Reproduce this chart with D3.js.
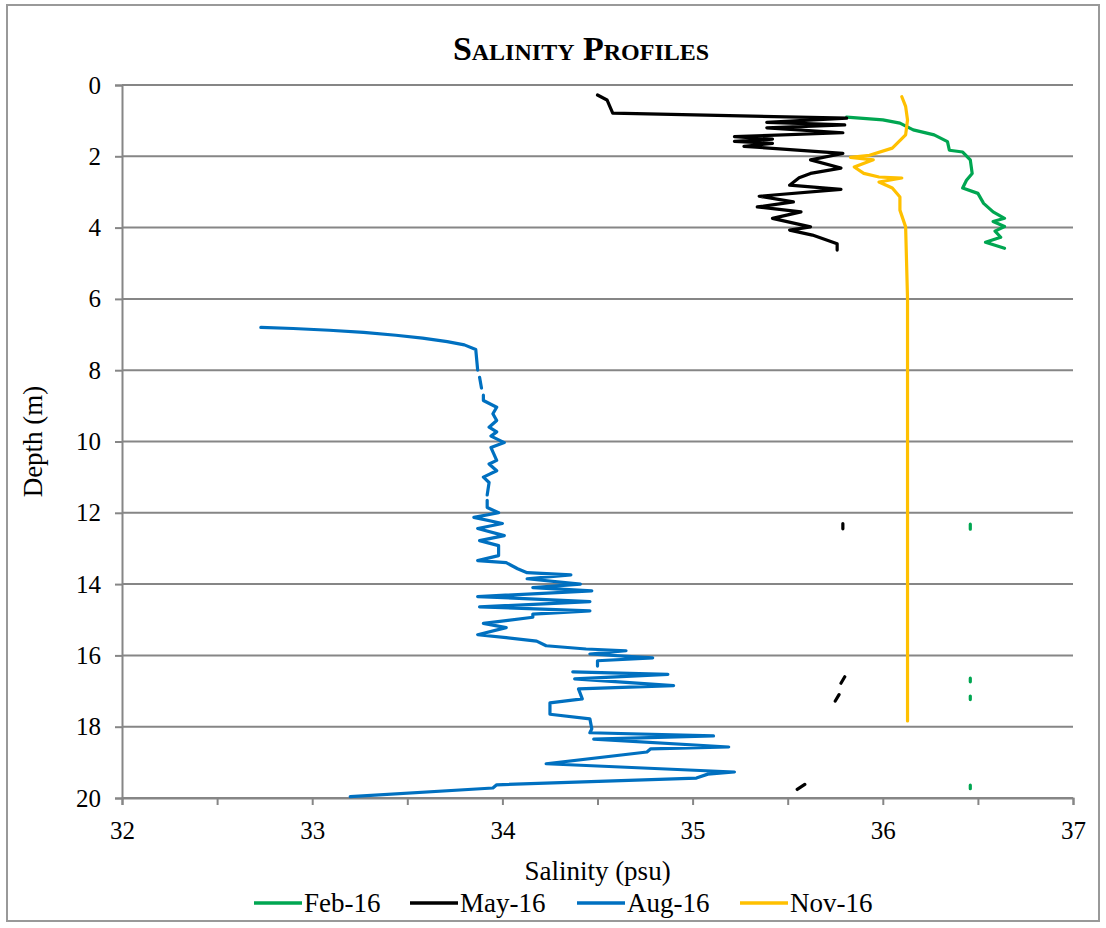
<!DOCTYPE html>
<html><head><meta charset="utf-8">
<script src="https://cdn.jsdelivr.net/npm/d3@7"></script>
<style>
html,body{margin:0;padding:0;background:#fff;}
</style></head>
<body><svg id="chart" width="1106" height="928"></svg>
<script>
// ---- data: [salinity (psu), depth (m)], null = gap ----
const seriesNames = ["Feb-16","May-16","Aug-16","Nov-16"];
const seriesColors = ["#00A651","#000000","#0070C0","#FFC000"];
const xTickLabels = [32,33,34,35,36,37];
const yTickLabels = [0,2,4,6,8,10,12,14,16,18,20];

const feb16 = [[35.81,0.9],[36.0,0.98],[36.09,1.07],[36.16,1.26],[36.27,1.4],[36.34,1.59],[36.35,1.83],[36.42,1.88],[36.46,2.1],[36.47,2.48],[36.44,2.67],[36.42,2.89],[36.5,3.04],[36.53,3.32],[36.58,3.56],[36.64,3.74],[36.58,3.83],[36.64,3.97],[36.59,4.1],[36.62,4.27],[36.54,4.41],[36.64,4.58],
  null,[36.46,12.32],[36.46,12.46],null,[36.46,16.64],[36.46,16.74],null,[36.46,17.14],[36.46,17.24],null,[36.46,19.64],[36.46,19.74]];

const may16 = [[34.50,0.28],[34.55,0.42],[34.58,0.79],[35.81,0.93],[35.39,1.05],[35.80,1.12],[35.39,1.2],[35.79,1.34],[35.22,1.45],[35.42,1.52],[35.22,1.58],[35.42,1.64],[35.27,1.72],[35.79,1.92],[35.62,2.1],[35.78,2.33],[35.62,2.48],[35.56,2.6],[35.51,2.81],[35.78,2.93],[35.35,3.12],[35.53,3.28],[35.34,3.42],[35.57,3.56],[35.42,3.74],[35.62,3.98],[35.51,4.07],[35.63,4.21],[35.76,4.45],[35.76,4.63],
  null,[35.79,12.3],[35.79,12.45],null,[35.80,16.6],[35.78,16.78],null,[35.77,17.1],[35.75,17.28],null,[35.59,19.62],[35.55,19.76]];

const aug16 = [[32.73,6.8],[32.9,6.83],[33.09,6.88],[33.27,6.94],[33.44,7.02],[33.58,7.1],[33.71,7.2],[33.8,7.29],[33.86,7.42],[33.87,8.0],null,[33.88,8.2],[33.89,8.5],null,[33.9,8.7],[33.9,8.85],[33.97,9.04],[33.95,9.22],[33.97,9.41],[33.93,9.6],[33.97,9.73],[33.94,9.85],[34.01,10.03],[33.94,10.17],[33.97,10.53],[33.93,10.63],[33.97,10.82],[33.9,11.0],[33.93,11.15],[33.92,11.5],
  null,[33.92,11.65],[33.92,11.85],[33.98,12.0],[33.85,12.13],[34.0,12.3],[33.87,12.44],[34.01,12.64],[33.88,12.78],[33.98,12.92],[33.98,13.2],[33.87,13.34],[34.02,13.4],[34.08,13.57],[34.13,13.68],[34.36,13.74],[34.13,13.85],[34.41,14.0],[34.16,14.1],[34.47,14.19],[33.87,14.35],[34.46,14.49],[33.88,14.64],[34.46,14.75],[34.16,14.84],[34.16,14.93],[33.9,15.1],[34.02,15.22],[33.87,15.42],[34.02,15.5],[34.18,15.6],[34.23,15.73],[34.44,15.82],[34.65,15.87],[34.46,15.96],[34.79,16.07],[34.5,16.15],[34.5,16.3],
  null,[34.37,16.46],[34.87,16.53],[34.38,16.66],[34.9,16.85],[34.4,16.94],[34.42,17.22],[34.25,17.33],[34.25,17.65],[34.46,17.78],[34.47,18.06],[34.46,18.17],[35.11,18.26],[34.48,18.35],[35.19,18.57],[34.78,18.62],[34.76,18.71],[34.23,19.04],[35.22,19.27],[35.08,19.33],[35.02,19.44],[33.97,19.63],[33.95,19.72],[33.2,19.96]];

const nov16 = [[36.10,0.33],[36.12,0.6],[36.13,0.98],[36.12,1.4],[36.05,1.77],[35.93,1.97],[35.83,2.03],[35.95,2.1],[35.85,2.3],[35.9,2.48],[35.98,2.58],[36.1,2.61],[35.98,2.72],[36.05,2.89],[36.09,3.14],[36.09,3.51],[36.12,3.98],[36.13,6],[36.13,10],[36.13,14],[36.13,17.84]];

const seriesData = [feb16, may16, aug16, nov16];

// ---- layout ----
const FONT = "'Liberation Serif', 'Times New Roman', Times, serif";
const svg = d3.select("#chart");
const L = 122, R = 1073, T = 85, B = 798;
const x = d3.scaleLinear().domain([32,37]).range([L,R]);
const y = d3.scaleLinear().domain([0,20]).range([T,B]);
const grey = "#868686";

svg.append("rect").attr("x",7).attr("y",5).attr("width",1092).attr("height",916)
  .attr("fill","#fff").attr("stroke","#999").attr("stroke-width",2);

// gridlines
svg.append("g").selectAll("line").data(yTickLabels).join("line")
  .attr("x1",L).attr("x2",R).attr("y1",d=>y(d)).attr("y2",d=>y(d))
  .attr("stroke",grey).attr("stroke-width",2);

// y axis
const yAxis = svg.append("g").attr("transform",`translate(${L},0)`)
  .call(d3.axisLeft(y).tickValues(yTickLabels).tickSize(7).tickPadding(14).tickFormat(d3.format("d")));
yAxis.attr("font-family",null).attr("font-size",null);
yAxis.select(".domain").attr("stroke",grey).attr("stroke-width",2);
yAxis.selectAll(".tick line").attr("stroke",grey).attr("stroke-width",2);
yAxis.selectAll("text").style("font-family",FONT).style("font-size","25px").attr("fill","#000");

// x axis
const xAxis = svg.append("g").attr("transform",`translate(0,${B})`)
  .call(d3.axisBottom(x).tickValues(d3.range(32,37.01,0.5)).tickSize(7).tickPadding(16)
    .tickFormat(d => Number.isInteger(d) && xTickLabels.includes(d) ? d : ""));
xAxis.attr("font-family",null).attr("font-size",null);
xAxis.select(".domain").attr("stroke",grey).attr("stroke-width",2);
xAxis.selectAll(".tick line").attr("stroke",grey).attr("stroke-width",2);
xAxis.selectAll("text").style("font-family",FONT).style("font-size","25px").attr("fill","#000");

// lines
const line = d3.line().defined(d => d !== null).x(d => x(d[0])).y(d => y(d[1]));
seriesData.forEach((data,i)=>{
  svg.append("path").datum(data).attr("d",line).attr("fill","none")
    .attr("stroke",seriesColors[i]).attr("stroke-width",3.2)
    .attr("stroke-linejoin","round").attr("stroke-linecap","round");
});

// title
svg.append("text").attr("x",581).attr("y",60).attr("text-anchor","middle")
  .style("font-family",FONT).style("font-size","34px").style("font-weight","bold").style("font-variant","small-caps")
  .text("Salinity Profiles");

// axis titles
svg.append("text").attr("x",(L+R)/2).attr("y",880).attr("text-anchor","middle")
  .style("font-family",FONT).style("font-size","27px").text("Salinity (psu)");
svg.append("text").attr("transform",`translate(42,${(T+B)/2}) rotate(-90)`)
  .attr("text-anchor","middle").style("font-family",FONT).style("font-size","27px").text("Depth (m)");

// legend
const legX = [254,410,577,740];
const leg = svg.append("g");
seriesNames.forEach((n,i)=>{
  leg.append("line").attr("x1",legX[i]).attr("x2",legX[i]+48).attr("y1",903).attr("y2",903)
    .attr("stroke",seriesColors[i]).attr("stroke-width",3.5);
  leg.append("text").attr("x",legX[i]+50).attr("y",912)
    .style("font-family",FONT).style("font-size","27px").text(n);
});
</script></body></html>
